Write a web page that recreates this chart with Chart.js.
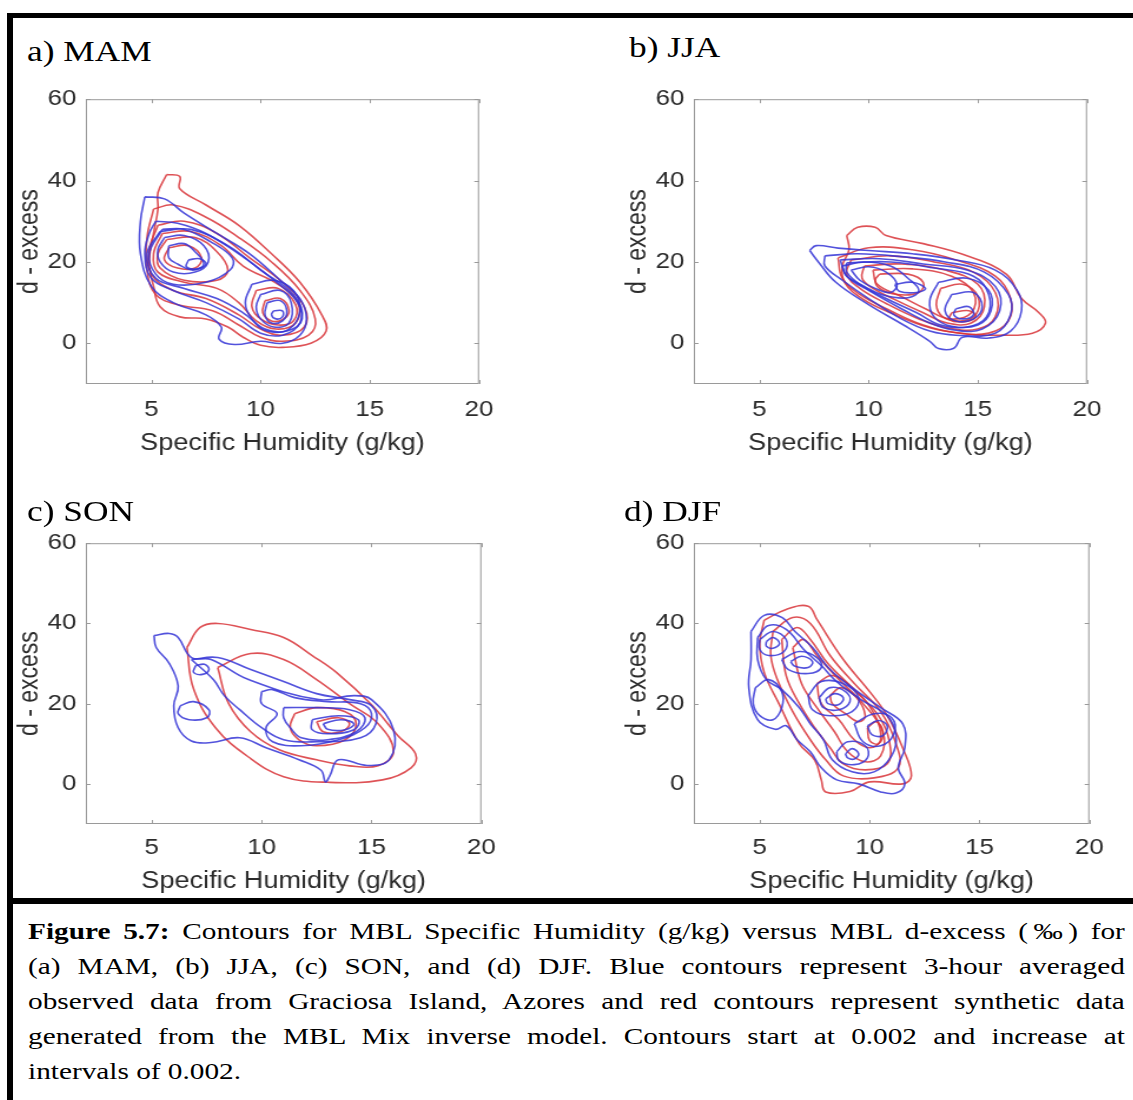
<!DOCTYPE html>
<html>
<head>
<meta charset="utf-8">
<script src="https://cdn.jsdelivr.net/npm/chart.js@4.4.1/dist/chart.umd.min.js"></script>
<style>
  body { margin: 0; width: 1133px; height: 1100px; background: #fff; position: relative; overflow: hidden; }
  .rule { position: absolute; background: #000; }
  canvas { position: absolute; transform: scaleX(1.178); transform-origin: 0 0; }
  .tag { position: absolute; font-family: 'Liberation Serif', 'Times New Roman', serif; font-size: 30px; line-height: 30px;
         color: #000; white-space: nowrap; transform: scaleX(1.178); transform-origin: 0 0; }
  .caption { position: absolute; left: 28px; top: 914px; width: 899px; font-family: 'Liberation Serif', 'Times New Roman', serif;
             font-size: 24px; line-height: 35px; color: #000; transform: scaleX(1.22); transform-origin: 0 0; }
  .caption div { text-align: justify; text-align-last: justify; }
  .caption div.last { text-align-last: left; }
</style>
</head>
<body>
<div class="rule" style="left:7px; top:13px; width:1126px; height:5px"></div>
<div class="rule" style="left:7px; top:13px; width:6px; height:1087px"></div>
<div class="rule" style="left:7px; top:898px; width:1126px; height:6px"></div>

<canvas id="mam" width="420" height="392" style="left:14px; top:78px"></canvas>
<canvas id="jja" width="420" height="392" style="left:622px; top:78px"></canvas>
<canvas id="son" width="420" height="386" style="left:14px; top:522px"></canvas>
<canvas id="djf" width="420" height="386" style="left:622px; top:522px"></canvas>

<div class="tag" style="left:27px; top:36px">a) MAM</div>
<div class="tag" style="left:629px; top:32px">b) JJA</div>
<div class="tag" style="left:27px; top:496px">c) SON</div>
<div class="tag" style="left:624px; top:496px">d) DJF</div>

<div class="caption">
  <div><b>Figure 5.7:</b> Contours for MBL Specific Humidity (g/kg) versus MBL d-excess (‰) for</div>
  <div>(a) MAM, (b) JJA, (c) SON, and (d) DJF. Blue contours represent 3-hour averaged</div>
  <div>observed data from Graciosa Island, Azores and red contours represent synthetic data</div>
  <div>generated from the MBL Mix inverse model. Contours start at 0.002 and increase at</div>
  <div class="last">intervals of 0.002.</div>
</div>

<script>
// Axis ticks and ranges (shared by all four panels)
const xTicks = [5, 10, 15, 20];
const yTicks = [0, 20, 40, 60];
const xRange = [2, 20];
const yRange = [-10, 60];

// Contour lines as [specific humidity, d-excess] vertices
// blue = observed (Graciosa Island), red = MBL Mix inverse model
const mamBlue = [
  [[4.7,36],[5.6,35.5],[6.5,32],[8,27],[9.5,22],[10.8,16],[11.8,11],[12.1,6],[11.8,2],[11,0],[10,0.5],[8.8,-0.3],[8.1,1],[8.2,4],[7.5,7],[6,10],[5,14],[4.5,22],[4.5,30]],
  [[5.2,30],[6.2,29.5],[7.5,27],[9,22],[10.5,16],[11.7,10],[11.8,5],[11,2],[10,2.5],[9,6],[7.5,10],[6,13],[5,16],[4.7,22],[4.9,27]],
  [[5.4,27.5],[6.8,28],[8.5,24],[10,18],[11.5,12],[11.9,6],[11.2,3],[10.2,3.5],[9.2,7.5],[8,11],[6.5,13.5],[5.2,16],[4.8,22]],
  [[5.5,28],[6.5,28],[7.7,25],[8.7,21],[8.6,18],[7.5,15],[6,14.5],[5.2,17],[4.9,22]],
  [[9.6,14.5],[10.6,15.5],[11.5,13],[11.8,8],[11.3,3.5],[10.3,3],[9.6,6],[9.3,10]],
  [[10,12],[10.9,13],[11.4,10],[11.3,5],[10.6,4],[10,6],[9.8,9]],
  [[10.3,10],[10.9,10.5],[11.2,8],[11,5.5],[10.5,5],[10.2,7]],
  [[10.6,8],[11,8],[11,6.5],[10.7,6],[10.5,7]],
  [[5.6,26],[6.5,26.5],[7.4,24],[7.6,20],[7,17.5],[6,17.5],[5.4,20],[5.3,23]],
  [[5.8,24],[6.5,24.5],[7,22.5],[7.4,19.5],[6.9,18],[6.2,19.5],[5.8,21]],
  [[6.7,20.5],[7.2,20.8],[7.5,19.5],[7.1,18.3],[6.6,18.8]]
];
const mamRed = [
  [[5.7,41.5],[6.3,41],[6.3,38],[7.5,34],[9,29],[10.5,22],[11.8,15],[12.8,7],[13,3],[12.3,0],[11,-1],[10,-0.5],[9.2,1.5],[8.5,4],[7.5,6],[6.3,6.5],[5.4,9],[5.1,14],[4.9,20],[5.1,27],[5.3,33],[5.3,37]],
  [[5.1,33],[6,34],[7.5,31],[9,26],[10.5,20],[11.8,13],[12.5,6],[12.2,2],[11,0.5],[10,1.5],[9,4.5],[7.8,8],[6.2,9.5],[5.2,12],[4.8,18],[4.8,26]],
  [[5.3,29],[6.5,30],[8,27],[9.5,21],[11,15],[12,9],[12,4],[11,2],[10,3.5],[9,7],[7.5,11],[6,13],[5,17],[4.9,23]],
  [[5.5,27],[6.8,27.5],[8.2,24],[9.2,19],[10.8,14.5],[11.7,10],[11.6,5],[10.7,3.5],[9.8,5.5],[9,10],[8,13.5],[6.5,15],[5.3,17.5],[5.1,22]],
  [[5.7,25.5],[7,26],[8,22.5],[8.5,18],[8,15.5],[6.5,15.5],[5.4,18.5],[5.3,22]],
  [[9.8,13],[10.8,13.5],[11.6,9.5],[11.5,5.5],[10.8,4.5],[10,6],[9.6,9]],
  [[10.2,10.5],[10.9,11],[11.3,8],[11,5.8],[10.5,5.5],[10.1,7.5]],
  [[5.8,23.5],[6.7,24],[7.3,21],[7,18.5],[6.2,18.5],[5.6,20.5]]
];

const jjaBlue = [
  [[7.3,22.8],[7.6,24],[8.6,23.4],[10,22.8],[12,22],[14,20.5],[15.8,18],[16.8,13],[17,8],[16.5,3],[15.5,1.3],[14.3,1.5],[13.9,-1.2],[13.2,-1.3],[12.8,0.5],[11.6,4.5],[10,9.5],[8.5,15],[7.7,20]],
  [[8,21.5],[9.5,22],[11.5,21.3],[13.5,20],[15.3,17.5],[16.4,12],[16.5,7],[15.8,2.5],[14,2],[12.8,3],[11.5,6],[10,11],[8.8,15.5],[8,19]],
  [[8.7,20.5],[10.5,20.8],[12.5,19.5],[14.5,18],[15.8,14],[16,8],[15.2,3.5],[14,3.2],[12.8,5],[11.5,8.5],[10,13],[9,16.5]],
  [[9,19.8],[11,20],[13,18.5],[14.8,16.5],[15.5,12],[15.4,6.5],[14.5,4],[13.3,4.5],[12.2,7.5],[10.8,11],[9.6,14.5],[9,17.5]],
  [[8.8,19],[9.8,20],[11,19],[11.8,16],[12.3,13],[11.8,11.2],[10.7,11.8],[9.8,14],[9,16.5]],
  [[9.2,18],[10,18.8],[10.8,17.5],[11.3,14.5],[11,12.5],[10.3,13.5],[9.6,15.5]],
  [[13.2,15],[14.5,16],[15.5,13],[15.6,8],[15,4.5],[13.8,4.2],[13,6.5],[12.8,10.5]],
  [[13.8,12],[14.8,12.5],[15.2,9],[14.8,6],[14,5.5],[13.5,8]],
  [[14,8.5],[14.6,9],[14.8,7],[14.3,6],[13.9,7]],
  [[11.2,14.5],[12,15],[12.6,13.5],[12.2,12.5],[11.4,12.8]]
];
const jjaRed = [
  [[9,26.5],[9.5,28.5],[10.3,28.5],[10.8,26.5],[12.5,24.5],[14.5,21.5],[16.3,17],[17,11],[17.8,7.5],[18.1,5],[17.5,2.5],[16,2],[14.5,2.3],[12.8,3.8],[11,7.5],[9.7,11],[8.9,15],[8.8,19],[9.1,23]],
  [[8.6,21],[10,23.5],[12,23],[14,20.5],[15.8,16.5],[16.5,11],[16.4,5.5],[15.5,2.5],[14,2.6],[12.5,4.5],[11,8],[9.6,12],[8.8,16]],
  [[9.2,20.5],[11,21.5],[13,20],[14.8,17.5],[15.8,12.5],[15.8,6.5],[15,3.5],[13.6,3.8],[12.3,6],[10.8,9.8],[9.6,13.5],[9,17]],
  [[9.8,19],[11.5,19.5],[13.5,18],[15,14.5],[15.3,9],[14.7,5],[13.6,5],[12.5,7.5],[11.3,10.5],[10.2,13.5],[9.7,16]],
  [[10.2,18],[12,18.3],[13.8,16.5],[14.8,12.5],[14.7,7.5],[13.7,6],[12.6,8.5],[11.5,11.5],[10.4,14.5]],
  [[10.5,17],[11.8,17],[12.5,15],[12.3,12.5],[11.3,12],[10.5,13.5],[10.3,15.5]],
  [[13.3,13.5],[14.3,14.5],[15,11.5],[14.9,7],[14.2,5.5],[13.4,6.5],[13.1,9.5]],
  [[13.8,7.5],[14.6,8],[14.9,6.5],[14.4,5.3],[13.7,5.8]]
];

const sonBlue = [
  [[5.1,37],[5.8,37.5],[6.2,36.5],[6.8,31.5],[7.7,31],[9.4,26],[12.6,21],[14.2,22],[15,21],[16,13.5],[15.8,6],[14.8,4.6],[13.5,6],[13.1,2],[12.9,0.5],[12.7,3.4],[11.7,6],[10.2,9],[9,11.5],[7.7,10.3],[6.8,10.7],[6.2,14],[6,19.5],[6.2,24.4],[5.8,30],[5.2,34]],
  [[6.8,31],[8,31.5],[9.5,28.5],[11,25.5],[12.5,22.5],[14,21],[15,19.5],[15.2,15],[14.5,11.5],[12.5,10.5],[11,11],[10,14],[9,18.5],[8.3,22],[7.8,26]],
  [[10,23],[10.5,23.5],[11.5,21.5],[13,20.5],[14.5,20],[15,17.5],[14.7,14],[13.5,11],[11.8,9.5],[10.5,10.5],[10.2,14],[10.7,17.5],[10,20]],
  [[11,19],[12.5,19],[14,18.5],[14.7,16.5],[14.3,13],[13,11],[11.8,11.5],[11.3,14],[11,16.5]],
  [[12.3,16],[13.5,17],[14.4,16],[14.2,13.5],[13,12.5],[12.3,13.5]],
  [[12.8,15],[13.6,16],[14.2,15],[13.8,13.5],[13,13.6]],
  [[7,29.5],[7.4,29.8],[7.6,28.5],[7.3,27.3],[6.9,27.8]],
  [[6.3,19.5],[6.9,20.5],[7.6,18.5],[7.5,16.5],[6.7,16],[6.2,17.5]]
];
const sonRed = [
  [[6.6,34],[7.2,39],[8,40],[9.5,38.5],[11,36.5],[12.3,32],[13.4,27.8],[15,19.7],[16.2,12],[17,7.5],[16.8,4],[15.5,1],[13,0.4],[11,1.8],[9.4,6.7],[7.9,14],[6.9,23.7]],
  [[8,29],[9.5,32.5],[11,31],[12.5,26],[14,20],[15.3,15],[16,8],[15.3,4.5],[14,4.5],[12.5,6],[10.8,8.5],[9.5,13],[8.5,20]],
  [[11.5,17.5],[12.5,19],[13.8,18],[14.3,15],[13.8,11],[12.5,9.5],[11.7,11],[11.3,14]],
  [[12.5,15.5],[13.5,16.5],[14,15],[13.6,13],[12.8,13]]
];

const djfBlue = [
  [[4.6,38],[5.2,42],[6,41.5],[6.6,38],[7.4,34],[8.2,28.5],[9.2,24],[10.5,19],[11.5,15],[11.6,9],[11.3,4],[11.6,0],[11.2,-2.3],[10.5,-2],[9.5,0],[8.5,1],[7.8,4],[7.3,8],[6.7,11],[6.2,14.5],[5.7,13.6],[4.9,16],[4.5,24],[4.6,31]],
  [[4.9,36.5],[5.4,39.5],[6.2,38.5],[7,33.5],[7.8,29.5],[8.5,25.5],[9.6,21],[10.8,17],[11.2,12],[11,7],[10.2,3],[9.2,3],[8.3,6],[7.9,11],[7.3,15],[6.8,19],[6,23.5],[5.3,26],[4.9,31]],
  [[4.8,24],[5.4,26],[6,23],[6,19],[5.6,16],[5,17],[4.7,20]],
  [[5,36],[5.6,38],[6.2,36],[6.1,33],[5.4,32],[5,33.5]],
  [[5.3,35.5],[5.6,36.5],[5.9,35],[5.6,33.8],[5.3,34.3]],
  [[6,31],[6.8,33],[7.6,31.5],[7.8,29],[7.2,27.5],[6.3,28.5]],
  [[6.4,30.5],[6.9,31.8],[7.4,30.5],[7.2,29],[6.6,29.3]],
  [[7.2,22],[7.8,25.5],[8.8,25],[9.5,21.5],[9.2,18],[8.2,17],[7.4,18.5]],
  [[7.7,21.5],[8.2,24],[8.9,23],[9.1,20.5],[8.6,18.5],[7.9,19]],
  [[8,21.2],[8.4,22.5],[8.8,21.5],[8.6,19.8],[8.1,20]],
  [[9.3,15],[10.2,17.5],[11,16.5],[11.1,12.5],[10.5,9.5],[9.7,10.5]],
  [[9.9,14.5],[10.4,15.8],[10.8,14.5],[10.6,12],[10.1,12.3]],
  [[8.5,8],[9,10.5],[9.8,9.5],[9.9,6.5],[9.3,4.8],[8.6,5.8]],
  [[8.9,7.5],[9.2,8.8],[9.5,7.5],[9.3,6.2],[9,6.5]]
];
const djfRed = [
  [[5.2,40.8],[6.2,43.5],[7.2,44.3],[7.6,41],[8.8,31],[10,23],[10.8,17],[11.5,9],[11.9,2],[11.5,0],[10,0.5],[9.1,-1.9],[8,-2],[7.8,1],[7.5,5.9],[6.8,10],[5.9,19.7],[5.2,27.8],[5,35]],
  [[5.6,38],[6.5,41.5],[7.3,40],[8.2,32],[9.3,25],[10.5,18],[11.2,10],[11.3,4],[10.2,1.5],[8.8,2],[8,6],[7.3,11],[6.5,18],[5.8,26],[5.5,32]],
  [[6,36],[6.7,39],[7.3,36],[8.1,30],[9.2,24],[10.4,17],[10.9,10.5],[10.8,5],[9.8,3.5],[8.8,5],[8.2,9],[7.5,14],[6.8,20],[6.2,27]],
  [[6.5,34],[7,36],[7.6,32],[8.6,26],[9.7,20],[10.6,13],[10.5,7],[9.8,5.5],[9,8],[8.4,13],[7.6,19],[6.9,25]],
  [[7.6,25],[8.3,27],[9.2,24],[10.2,17.5],[10.5,11],[10,9],[9.3,11],[8.6,16],[7.8,20]],
  [[8.2,22],[8.7,24],[9.4,21.5],[9.8,17],[9.5,15.5],[8.9,17.5],[8.3,20]],
  [[9.9,14],[10.3,15.5],[10.6,13],[10.4,10],[10,10.8]]
];

const blueLine = 'rgba(52, 52, 214, 0.85)';
const redLine = 'rgba(216, 52, 56, 0.85)';
const textColor = '#2b2b2b';
const sans = "'Liberation Sans', Arial, sans-serif";

// Box around the plot area with MATLAB-style inward tick marks on all four sides
const boxTicks = {
  id: 'boxTicks',
  afterDatasetsDraw(chart) {
    const { ctx, chartArea: a, scales: { x, y } } = chart;
    ctx.save();
    ctx.strokeStyle = '#9a9a9a';
    ctx.lineWidth = 1;
    ctx.strokeRect(a.left + 0.5, a.top + 0.5, a.width - 1, a.height - 1);
    ctx.beginPath();
    xTicks.forEach(v => {
      const px = Math.round(x.getPixelForValue(v)) + 0.5;
      ctx.moveTo(px, a.bottom); ctx.lineTo(px, a.bottom - 4);
      ctx.moveTo(px, a.top); ctx.lineTo(px, a.top + 4);
    });
    yTicks.forEach(v => {
      const py = Math.round(y.getPixelForValue(v)) + 0.5;
      ctx.moveTo(a.left, py); ctx.lineTo(a.left + 4, py);
      ctx.moveTo(a.right, py); ctx.lineTo(a.right - 4, py);
    });
    ctx.stroke();
    ctx.restore();
  }
};

function contourSets(lines, color) {
  return lines.map(c => ({
    data: [...c, c[0]].map(([x, y]) => ({ x, y })),
    showLine: true,
    borderColor: color,
    borderWidth: 1.6,
    pointRadius: 0,
    tension: 0.4,
    fill: false
  }));
}

function makePanel(id, blue, red, axisH, labelPad) {
  new Chart(document.getElementById(id), {
    type: 'scatter',
    data: { datasets: [...contourSets(blue, blueLine), ...contourSets(red, redLine)] },
    options: {
      responsive: false,
      animation: false,
      devicePixelRatio: 1,
      layout: { padding: { top: 16, right: 19, left: 0, bottom: 0 } },
      plugins: { legend: { display: false }, tooltip: { enabled: false } },
      scales: {
        x: {
          type: 'linear',
          min: xRange[0],
          max: xRange[1],
          grid: { display: false, drawTicks: false },
          border: { display: false },
          afterBuildTicks: s => { s.ticks = xTicks.map(v => ({ value: v })); },
          afterFit: s => { s.height = axisH; },
          ticks: { padding: labelPad, maxRotation: 0, color: textColor, font: { family: sans, size: 22 } },
          title: { display: true, text: 'Specific Humidity (g/kg)', color: textColor,
                   font: { family: sans, size: 23 }, padding: { top: 0, bottom: 13 } }
        },
        y: {
          type: 'linear',
          min: yRange[0],
          max: yRange[1],
          grid: { display: false, drawTicks: false },
          border: { display: false },
          afterBuildTicks: s => { s.ticks = yTicks.map(v => ({ value: v })); },
          afterFit: s => { s.width = 61; },
          ticks: { padding: 8, color: textColor, font: { family: sans, size: 22 } },
          title: { display: true, text: 'd - excess', color: textColor,
                   font: { family: sans, size: 23 }, padding: { top: 0, bottom: 0 } }
        }
      }
    },
    plugins: [boxTicks]
  });
}

makePanel('mam', mamBlue, mamRed, 86, 13);
makePanel('jja', jjaBlue, jjaRed, 86, 13);
makePanel('son', sonBlue, sonRed, 84, 11);
makePanel('djf', djfBlue, djfRed, 84, 11);
</script>
</body>
</html>
